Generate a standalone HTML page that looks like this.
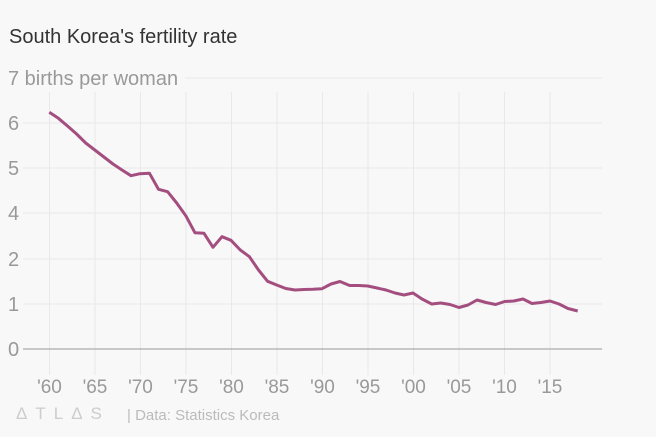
<!DOCTYPE html>
<html><head><meta charset="utf-8"><style>
html,body{margin:0;padding:0;background:#f8f8f8;}
svg{display:block;font-family:"Liberation Sans",sans-serif;}
</style></head><body>
<svg width="656" height="437" viewBox="0 0 656 437">
<rect width="656" height="437" fill="#f8f8f8"/>
<text x="9" y="43" font-size="20" fill="#333">South Korea's fertility rate</text>
<g stroke="#e9e9e9" stroke-width="1">
<line x1="185" y1="78" x2="602" y2="78"/>
<line x1="23" y1="123" x2="602" y2="123"/>
<line x1="23" y1="168" x2="602" y2="168"/>
<line x1="23" y1="213" x2="602" y2="213"/>
<line x1="23" y1="259" x2="602" y2="259"/>
<line x1="23" y1="304" x2="602" y2="304"/>
<line x1="49.5" y1="92" x2="49.5" y2="375"/>
<line x1="95" y1="92" x2="95" y2="375"/>
<line x1="140.5" y1="92" x2="140.5" y2="375"/>
<line x1="186" y1="92" x2="186" y2="375"/>
<line x1="231.5" y1="92" x2="231.5" y2="375"/>
<line x1="277" y1="92" x2="277" y2="375"/>
<line x1="322.5" y1="92" x2="322.5" y2="375"/>
<line x1="368" y1="92" x2="368" y2="375"/>
<line x1="413.5" y1="92" x2="413.5" y2="375"/>
<line x1="459" y1="92" x2="459" y2="375"/>
<line x1="504.5" y1="92" x2="504.5" y2="375"/>
<line x1="550" y1="92" x2="550" y2="375"/>
</g>
<line x1="23" y1="349" x2="602" y2="349" stroke="#999" stroke-width="1"/>
<g font-size="20" fill="#999">
<text x="8" y="85">7 births per woman</text>
<text x="8" y="130">6</text>
<text x="8" y="175">5</text>
<text x="8" y="220">4</text>
<text x="8" y="266">2</text>
<text x="8" y="311">1</text>
<text x="8" y="356">0</text>
</g>
<g font-size="19" fill="#999" text-anchor="middle">
<text x="49.5" y="393">'60</text><text x="95" y="393">'65</text><text x="140.5" y="393">'70</text>
<text x="186" y="393">'75</text><text x="231.5" y="393">'80</text><text x="277" y="393">'85</text>
<text x="322.5" y="393">'90</text><text x="368" y="393">'95</text><text x="413.5" y="393">'00</text>
<text x="459" y="393">'05</text><text x="504.5" y="393">'10</text><text x="550" y="393">'15</text>
</g>
<text x="16" y="419" font-size="17" fill="#ccc" letter-spacing="8">ΔTLΔS</text>
<text x="127" y="420" font-size="15" fill="#bbb">| Data: Statistics Korea</text>
<polyline fill="none" stroke="#a44e80" stroke-width="3" stroke-linejoin="round" points="49.3,112.3 58.4,118.3 67.5,126 76.6,134 85.7,143 94.8,150 103.9,157 113,164 122,170 131,175.7 140,173.7 149.5,173.3 158.5,189.3 167.6,191.7 176.7,203 185.8,215.7 194.9,232.7 204,233.3 213,247.3 222,236.7 231,240.3 240.3,250 249.4,256.7 258.5,270 267.6,281.3 276.7,285 285.8,288.5 295,290 304,289.5 313,289.3 322,288.7 331,284 340,281.5 349.6,285.5 358.7,285.5 367.8,286 377,288 386,290 395,293 404,295 413,293 422,299 431.7,304 440.8,303 450,304.5 459,307.5 468,305 477,300 486,302.5 495.6,304.5 504.7,301.5 513.8,301 523,299 532,303.5 541,302.5 550,301 559,304 568,308.5 577.7,311"/>
</svg>
</body></html>
